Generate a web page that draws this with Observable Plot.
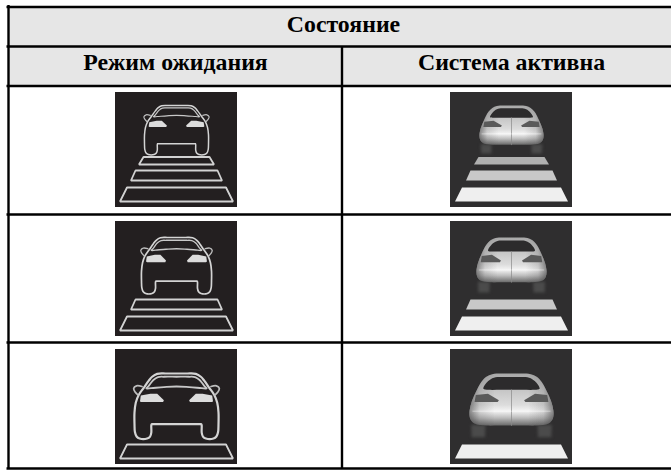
<!DOCTYPE html>
<html>
<head>
<meta charset="utf-8">
<script src="https://cdn.jsdelivr.net/npm/d3@7"></script>
<script src="https://cdn.jsdelivr.net/npm/@observablehq/plot@0.6"></script>
<style>html,body{margin:0;padding:0;background:#fff}svg{display:block}</style>
</head>
<body>
<script>
// Table text
const titleText = ["Состояние"];
const columnHeads = ["Режим ожидания", "Система активна"];

// Table geometry, in page units
const headerBands = [{y1: 6, y2: 46}, {y1: 46, y2: 85}];
const horizontalRules = [6.5, 46, 85.5, 214, 342, 468];
const columnEdges = [8, 341.5];
const iconColumns = [115, 450];
const iconRows = [92, 221, 349];
const iconSize = {w: 122, h: 115};

// Car size in each row: half width, top, height (icon units)
const carSizes = [
  {hw: 32, top: 13, h: 49, sw: 1.5},
  {hw: 35, top: 16, h: 56, sw: 1.7},
  {hw: 42, top: 24, h: 65, sw: 2.2}
];

// Crossing stripes, icon units
const stripes = [
  {y1: 64.5, y2: 72, t: 33, b: 37.5, shade: "#b0b0b0"},
  {y1: 78, y2: 88, t: 41, b: 45.5, shade: "#c8c8c8"},
  {y1: 95, y2: 109, t: 49.5, b: 56.5, shade: "#efefef"}
];
const stripeRowsShown = [[0, 1, 2], [1, 2], [2]];

// Half shapes [u, v]: u = across from centre line, v = down from the roof
const outlineHalf = [[0,0],[.25,0],[.46,.005],[.58,.05],[.66,.11],[.78,.22],[.9,.33],[.97,.45],[1,.6],[1,.78],[.99,.9],[.95,.97],[.88,1],[.7,1],[.63,.97],[.6,.91],[.6,.8],[.59,.78],[.55,.78],[.3,.78],[0,.78]];
const mirrorHalf = [[.82,.2],[.95,.19],[1.02,.23],[.98,.29],[.92,.33]];
const windowHalf = [[0,.05],[.3,.05],[.44,.055],[.55,.1],[.66,.19],[.72,.23],[.6,.225],[.3,.21],[0,.2]];
const lampHalf = [[.87,.43],[.85,.34],[.62,.31],[.46,.31],[.3,.41],[.32,.44],[.84,.44]];

const bodyHalf = [[0,0],[.25,0],[.46,.01],[.6,.05],[.72,.13],[.86,.3],[.96,.46],[1,.6],[.98,.7],[.88,.77],[.6,.8],[.3,.8],[0,.8]];
const glassHalf = [[0,.055],[.25,.055],[.42,.065],[.56,.12],[.67,.235],[.55,.25],[.25,.25],[0,.25]];
const tailHalf = [[.88,.44],[.85,.33],[.56,.31],[.3,.41],[.33,.44]];
const wheelHalf = [[.62,.79],[.96,.79],[.95,.98],[.63,.98]];

// full closed loop from a half that starts and ends on the centre line
const loop = half => [...half, ...half.slice(1, -1).reverse().map(([u, v]) => [-u, v])];

const marks = [];
const put = (pts, col, row, opts) => {
  const ox = iconColumns[col] + iconSize.w / 2, oy = iconRows[row];
  const c = carSizes[row];
  return Plot.line(pts, {
    x: d => ox + d[0] * c.hw,
    y: d => oy + c.top + d[1] * c.h,
    ...opts
  });
};

// gradient definitions
marks.push(() => {
  const defs = d3.create("svg:defs");
  const add = (id, attrs, stops) => {
    const g = defs.append("linearGradient").attr("id", id);
    Object.entries(attrs).forEach(([k, v]) => g.attr(k, v));
    stops.forEach(([o, c, a]) => g.append("stop").attr("offset", o).attr("stop-color", c).attr("stop-opacity", a ?? 1));
  };
  add("bodyFill", {x1: 0, y1: 0, x2: 0, y2: 1}, [[0,"#a8a8a8"],[.3,"#c4c4c4"],[.6,"#dcdcdc"],[.72,"#f4f4f4"],[.85,"#bcbcbc"],[1,"#686868"]]);
  add("bodySides", {x1: 0, y1: 0, x2: 1, y2: 0}, [[0,"#2f2e2f",.55],[.12,"#2f2e2f",.15],[.3,"#2f2e2f",0],[.7,"#2f2e2f",0],[.88,"#2f2e2f",.15],[1,"#2f2e2f",.55]]);
  return defs.node();
});

// header bands
marks.push(Plot.rect(headerBands, {x1: 8, x2: 671, y1: "y1", y2: "y2", fill: "#e6e6e6"}));

// icon backgrounds
iconColumns.forEach((cx, col) => {
  marks.push(Plot.rect(iconRows, {x1: cx, x2: cx + iconSize.w, y1: d => d, y2: d => d + iconSize.h, fill: col ? "#2f2e2f" : "#231f20"}));
});

iconRows.forEach((_, row) => {
  const sw = carSizes[row].sw;
  stripeRowsShown[row].forEach(i => {
    const s = stripes[i];
    const pts = [{u: -s.t, v: s.y1}, {u: s.t, v: s.y1}, {u: s.b, v: s.y2}, {u: -s.b, v: s.y2}];
    marks.push(Plot.line(pts, {
      x: d => iconColumns[0] + iconSize.w / 2 + d.u,
      y: d => iconRows[row] + d.v,
      curve: "linear-closed", stroke: "#d2d2d2", strokeWidth: 1.8, strokeLinejoin: "miter"
    }));
    marks.push(Plot.line(pts, {
      x: d => iconColumns[1] + iconSize.w / 2 + d.u,
      y: d => iconRows[row] + d.v,
      curve: "linear-closed", fill: s.shade, stroke: "none"
    }));
  });
  marks.push(put(loop(outlineHalf), 0, row, {curve: "catmull-rom-closed", stroke: "#d4d4d4", strokeWidth: sw}));
  [1, -1].forEach(side => {
    const flip = pts => pts.map(([u, v]) => [side * u, v]);
    marks.push(put(flip(mirrorHalf), 0, row, {curve: "catmull-rom", stroke: "#bdbdbd", strokeWidth: sw * .8}));
    marks.push(put(flip(lampHalf), 0, row, {curve: "linear-closed", fill: "#dcdcdc", stroke: "none"}));
    marks.push(put(flip(wheelHalf), 1, row, {curve: "linear-closed", fill: "#4b4b4b", stroke: "none", imageFilter: "blur(1.5px)"}));
  });
  marks.push(put(loop(windowHalf), 0, row, {curve: "catmull-rom-closed", stroke: "#c8c8c8", strokeWidth: sw * .8}));

  marks.push(put(loop(bodyHalf), 1, row, {curve: "catmull-rom-closed", fill: "url(#bodyFill)", stroke: "none", imageFilter: "blur(0.7px)"}));
  marks.push(put(loop(bodyHalf), 1, row, {curve: "catmull-rom-closed", fill: "url(#bodySides)", stroke: "none", imageFilter: "blur(0.7px)"}));
  marks.push(put(loop(glassHalf), 1, row, {curve: "catmull-rom-closed", fill: "#2c2b2c", stroke: "none", imageFilter: "blur(0.4px)"}));
  [1, -1].forEach(side => {
    marks.push(put(tailHalf.map(([u, v]) => [side * u, v]), 1, row, {curve: "linear-closed", fill: "#5a5a5a", stroke: "none", imageFilter: "blur(0.5px)"}));
  });
  marks.push(put([[0, .25], [0, .8]], 1, row, {stroke: "#8a8a8a", strokeWidth: .7}));
  marks.push(put([[-.92, .58], [.92, .58]], 1, row, {stroke: "#ffffff", strokeWidth: .8, strokeOpacity: .5}));
});

// table lines
marks.push(Plot.ruleY(horizontalRules, {y: d => d, x1: 6.5, x2: 671, stroke: "#000", strokeWidth: 2.4}));
marks.push(Plot.ruleX([columnEdges[0]], {x: d => d, y1: 5, y2: 469, stroke: "#000", strokeWidth: 2.4}));
marks.push(Plot.ruleX([columnEdges[1]], {x: d => d, y1: 46, y2: 469, stroke: "#000", strokeWidth: 2.4}));

// header text
const fontOpts = {fontFamily: "Liberation Serif", fontWeight: "bold", fontSize: 23.8, fill: "#000", textAnchor: "middle"};
marks.push(Plot.text(titleText, {text: d => d, x: () => 343, y: () => 23.5, ...fontOpts}));
marks.push(Plot.text(columnHeads, {text: d => d, x: (d, i) => [175, 511][i], y: () => 61.5, ...fontOpts}));

const chart = Plot.plot({
  width: 671, height: 470,
  marginTop: 0, marginRight: 0, marginBottom: 0, marginLeft: 0,
  x: {domain: [0, 671], range: [0, 671], axis: null},
  y: {domain: [0, 470], range: [0, 470], axis: null},
  style: {background: "#fff"},
  marks
});
document.body.appendChild(chart);
</script>
</body>
</html>
